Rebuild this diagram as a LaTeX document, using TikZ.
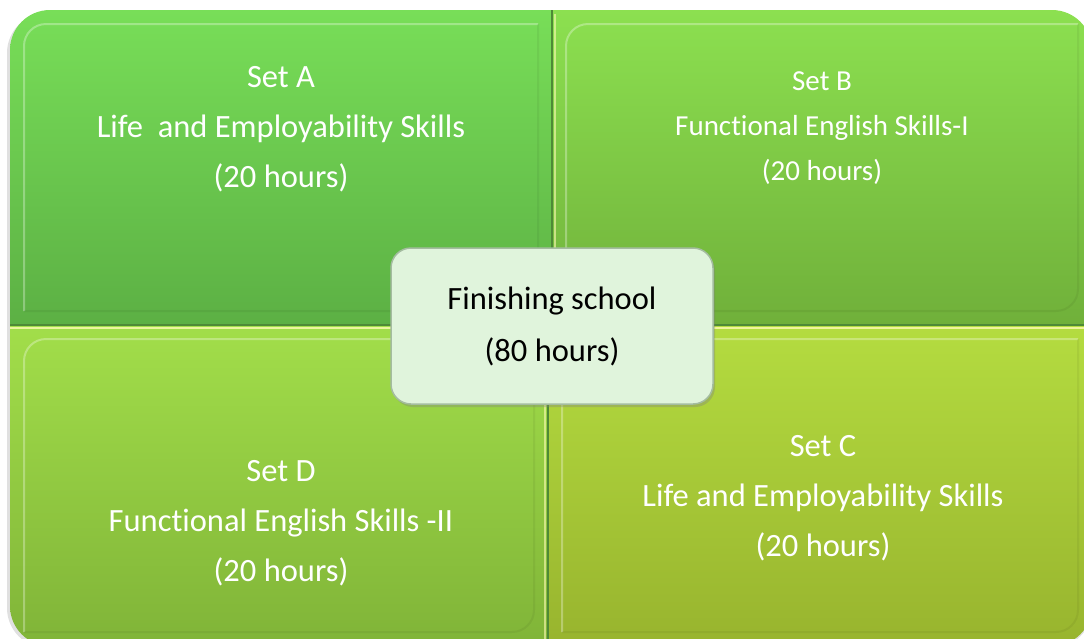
\documentclass[tikz,border=0pt]{standalone}
\usepackage{fontspec}
\setmainfont[RawFeature={-liga;-clig;-dlig;-calt}]{Carlito}
\usetikzlibrary{shadows,positioning}
\definecolor{aTop}{HTML}{78DE58}
\definecolor{aBot}{HTML}{5CB044}
\definecolor{bTop}{HTML}{8CE050}
\definecolor{bBot}{HTML}{70B03A}
\definecolor{dTop}{HTML}{A2DE4A}
\definecolor{dBot}{HTML}{80B438}
\definecolor{cTop}{HTML}{B4DC40}
\definecolor{cBot}{HTML}{98B42E}
\definecolor{seam}{HTML}{4E8A36}
\definecolor{hubfill}{HTML}{E0F4DC}
\definecolor{hubline}{HTML}{A4BCA0}

\begin{document}
\begin{tikzpicture}[
    x=1pt, y=-1pt,
    settext/.style={text=white, align=center, font=\fontsize{32.5}{50}\selectfont},
    hub/.style={draw=hubline, line width=1.5pt, fill=hubfill, rounded corners=20,
      minimum width=322, minimum height=156, align=center,
      font=\fontsize{32.5}{52}\selectfont,
      drop shadow={opacity=.35, shadow xshift=2pt, shadow yshift=-3pt}}
    ]
  \useasboundingbox (0,0) rectangle (1084,638);
  % shadow of the whole block
  \fill[black, opacity=.12, rounded corners=40] (7,13) rectangle (1092,648);
  \begin{scope}
    \clip[rounded corners=40] (10,10) rectangle (1092,646);
    \shade[top color=aTop, bottom color=aBot] (10,10) rectangle (552,325);
    \shade[top color=bTop, bottom color=bBot] (552,10) rectangle (1092,325);
    \shade[top color=dTop, bottom color=dBot] (10,325) rectangle (548,646);
    \shade[top color=cTop, bottom color=cBot] (548,325) rectangle (1092,646);
    % bevels
    \foreach \xa/\ya/\xb/\yb in {10/10/552/325, 552/10/1092/325, 10/325/548/646, 548/325/1092/646} {
      \draw[white, opacity=.3, line width=2pt, rounded corners=22]
        (\xa+14,\yb-14) -- (\xa+14,\ya+14) -- (\xb-14,\ya+14);
      \draw[black, opacity=.05, line width=2pt, rounded corners=22]
        (\xa+14,\yb-14) -- (\xb-14,\yb-14) -- (\xb-14,\ya+14);
    }
    % seams
    \draw[seam, line width=1.5pt] (552,10) -- (552,325);
    \draw[seam, line width=1.5pt] (548,325) -- (548,646);
    \draw[seam, line width=1.5pt] (10,325) -- (1092,325);
    \draw[white!70!yellow, opacity=.8, line width=2pt] (10,328) -- (1092,328);
    \draw[white!70!yellow, opacity=.6, line width=2pt] (555,14) -- (555,322);
    \draw[white!70!yellow, opacity=.6, line width=2pt] (545,330) -- (545,640);
  \end{scope}

  \node[settext] (setA) at (281,129) {Set A\\Life\ \ and Employability Skills\\(20 hours)};
  \node[settext, font=\fontsize{29}{45}\selectfont] (setB) at (822,128) {Set B\\Functional English Skills-I\\(20 hours)};
  \node[settext] (setC) at (823,498) {Set C\\Life and Employability Skills\\(20 hours)};
  \node[settext] (setD) at (281,523) {Set D\\Functional English Skills -II\\(20 hours)};
  \node[hub] (school) at (552,326) {Finishing school\\(80 hours)};
\end{tikzpicture}
\end{document}
